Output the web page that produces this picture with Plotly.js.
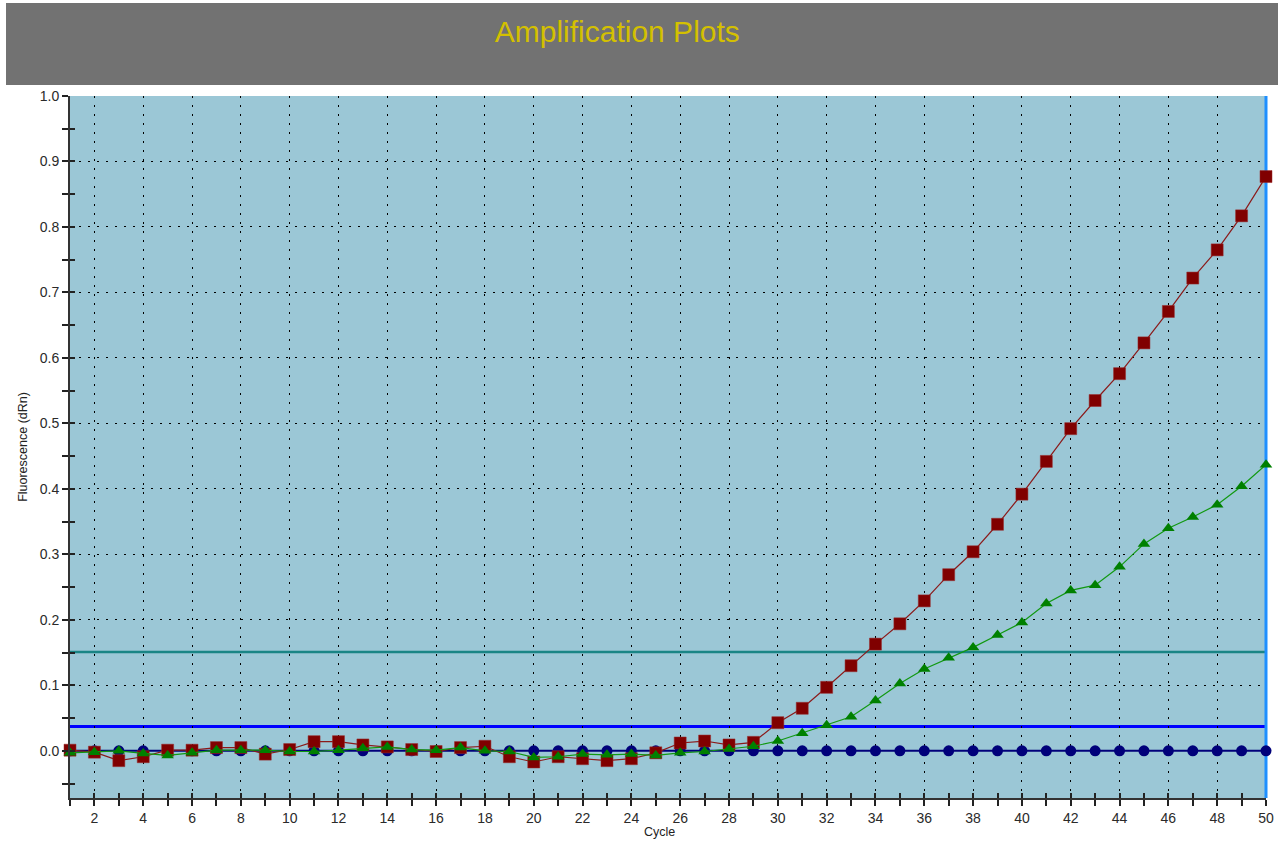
<!DOCTYPE html>
<html>
<head>
<meta charset="utf-8">
<script src="https://cdn.plot.ly/plotly-3.0.1.min.js"></script>
<style>
  html, body { margin: 0; padding: 0; background: #ffffff; }
  #chart { width: 1278px; height: 841px; }
</style>
</head>
<body>
<div id="chart"></div>
<script>
// ---- data ----
const chartTitle = "Amplification Plots";
const xTitle = "Cycle";
const yTitle = "Fluorescence (dRn)";

const cycles = [1,2,3,4,5,6,7,8,9,10,11,12,13,14,15,16,17,18,19,20,21,22,23,24,25,
                26,27,28,29,30,31,32,33,34,35,36,37,38,39,40,41,42,43,44,45,46,47,48,49,50];

const redSeries = [0.001,-0.002,-0.015,-0.009,0.001,0.001,0.005,0.005,-0.005,0.002,
                   0.014,0.014,0.009,0.006,0.002,-0.001,0.005,0.007,-0.009,-0.017,
                   -0.009,-0.012,-0.015,-0.012,-0.003,0.012,0.015,0.009,0.013,0.043,
                   0.065,0.097,0.130,0.163,0.194,0.229,0.269,0.304,0.346,0.392,
                   0.442,0.492,0.535,0.576,0.623,0.671,0.722,0.765,0.817,0.877];

const greenSeries = [-0.003,-0.002,0.000,-0.004,-0.007,-0.003,0.001,0.001,0.001,-0.001,
                     -0.001,0.001,0.004,0.006,0.002,0.001,0.005,0.000,-0.001,-0.010,
                     -0.009,-0.005,-0.006,-0.005,-0.007,-0.003,-0.001,0.003,0.007,0.015,
                     0.027,0.039,0.052,0.077,0.103,0.125,0.142,0.158,0.177,0.196,
                     0.225,0.245,0.253,0.281,0.316,0.340,0.357,0.376,0.404,0.437];

const blueSeries = [0,0,0,0,0,0,0,0,0,0,0,0,0,0,0,0,0,0,0,0,0,0,0,0,0,
                    0,0,0,0,0,0,0,0,0,0,0,0,0,0,0,0,0,0,0,0,0,0,0,0,0];

const thresholdTeal = 0.151;
const thresholdBlue = 0.037;

const xRange = [1, 50];
const yRange = [-0.072, 1.0];

// ---- chart ----
const FONT = "Liberation Sans, Arial, sans-serif";

const traces = [
  {
    x: cycles, y: blueSeries, type: "scatter", mode: "lines+markers",
    line: { color: "#00007A", width: 2 },
    marker: { symbol: "circle", size: 11, color: "#00007A" },
    cliponaxis: false
  },
  {
    x: cycles, y: redSeries, type: "scatter", mode: "lines+markers",
    line: { color: "#8B1A1A", width: 1.2 },
    marker: { symbol: "square", size: 12, color: "#800000", line: { color: "#9a2a2a", width: 0.5 } },
    cliponaxis: false
  },
  {
    x: cycles, y: greenSeries, type: "scatter", mode: "lines+markers",
    line: { color: "#119911", width: 1.2 },
    marker: { symbol: "triangle-up", size: 11, color: "#008000" },
    cliponaxis: false
  },
  // invisible companion trace so the overlaid tick-only axes are drawn
  {
    x: cycles, y: blueSeries, xaxis: "x2", yaxis: "y2", type: "scatter", mode: "lines",
    line: { color: "rgba(0,0,0,0)", width: 0 }, opacity: 0, hoverinfo: "skip"
  }
];

const tickAxisCommon = {
  showgrid: false, zeroline: false, showline: false, showticklabels: false,
  ticks: "inside", ticklen: 5, tickwidth: 2, tickcolor: "#222222", fixedrange: true
};

const layout = {
  width: 1278, height: 841,
  margin: { l: 70, r: 12, t: 96, b: 43, pad: 0 },
  paper_bgcolor: "#ffffff",
  plot_bgcolor: "#9BC7D6",
  showlegend: false,
  font: { family: FONT, size: 14, color: "#333333" },
  title: {
    text: chartTitle,
    font: { family: FONT, size: 30, color: "#D4C000" },
    xref: "container", x: 0.483, xanchor: "center",
    yref: "container", y: 0.963, yanchor: "middle"
  },
  xaxis: {
    range: xRange, tickmode: "linear", tick0: 2, dtick: 2,
    showgrid: true, gridcolor: "#000000", gridwidth: 1, griddash: "2px,7px",
    zeroline: false,
    showline: true, linecolor: "#333333", linewidth: 2,
    ticks: "outside", ticklen: 6, tickwidth: 2, tickcolor: "#222222",
    minor: { dtick: 1, tick0: 1, ticks: "outside", ticklen: 6, tickwidth: 2, tickcolor: "#222222", showgrid: false },
    tickfont: { family: FONT, size: 14, color: "#2a2a2a" },
    automargin: false
  },
  yaxis: {
    range: yRange, tickmode: "linear", tick0: 0, dtick: 0.1, tickformat: ".1f",
    showgrid: true, gridcolor: "#000000", gridwidth: 1, griddash: "2px,7px",
    zeroline: false,
    showline: true, linecolor: "#333333", linewidth: 2,
    ticks: "outside", ticklen: 6, tickwidth: 2, tickcolor: "#222222",
    minor: { dtick: 0.05, tick0: 0, ticks: "outside", ticklen: 6, tickwidth: 2, tickcolor: "#222222", showgrid: false },
    tickfont: { family: FONT, size: 14, color: "#2a2a2a" },
    title: { text: yTitle, font: { family: FONT, size: 12.5, color: "#222222" }, standoff: 9 },
    automargin: false
  },
  xaxis2: Object.assign({
    overlaying: "x", anchor: "y2", range: xRange, tickmode: "linear", tick0: 2, dtick: 2,
    side: "bottom",
    minor: { dtick: 1, tick0: 1, ticks: "inside", ticklen: 5, tickwidth: 2, tickcolor: "#222222", showgrid: false }
  }, tickAxisCommon),
  yaxis2: Object.assign({
    overlaying: "y", anchor: "x2", range: yRange, tickmode: "linear", tick0: 0, dtick: 0.1,
    side: "left",
    minor: { dtick: 0.05, tick0: 0, ticks: "inside", ticklen: 5, tickwidth: 2, tickcolor: "#222222", showgrid: false }
  }, tickAxisCommon),
  annotations: [
    // x-axis title at the very bottom edge of the window
    { text: xTitle, xref: "paper", yref: "paper", x: 0.493, y: -0.049,
      xanchor: "center", yanchor: "middle", showarrow: false,
      font: { family: FONT, size: 12.5, color: "#222222" } }
  ],
  shapes: [
    // grey header band
    { type: "rect", xref: "paper", yref: "paper", x0: -0.0535, x1: 1.02, y0: 1.0157, y1: 1.1325,
      fillcolor: "#727272", line: { width: 0 }, layer: "below" },
    // thresholds
    { type: "line", xref: "paper", yref: "y", x0: 0, x1: 1, y0: thresholdTeal, y1: thresholdTeal,
      line: { color: "#1A8585", width: 2.5 }, layer: "between" },
    { type: "line", xref: "paper", yref: "y", x0: 0, x1: 1, y0: thresholdBlue, y1: thresholdBlue,
      line: { color: "#0000FF", width: 3 }, layer: "between" },
    // cycle marker at the last cycle (right edge of the plot)
    { type: "line", xref: "paper", yref: "paper", x0: 1, x1: 1, y0: 0, y1: 1,
      line: { color: "#1E8FFF", width: 3 }, layer: "between" }
  ]
};

Plotly.newPlot("chart", traces, layout, { displayModeBar: false, staticPlot: true });
</script>
</body>
</html>
